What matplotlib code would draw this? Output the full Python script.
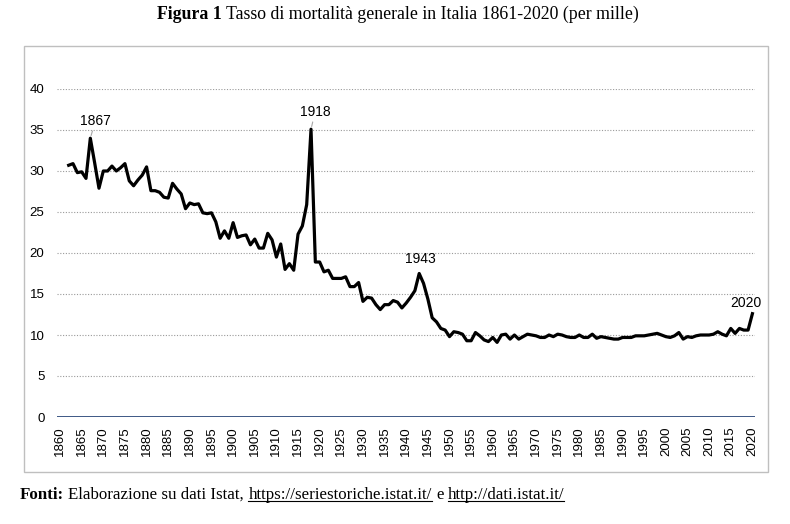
import matplotlib
matplotlib.use('Agg')
import matplotlib.pyplot as plt
from matplotlib.patches import Rectangle
from matplotlib.lines import Line2D

plt.rcParams['font.family'] = ['Liberation Sans', 'DejaVu Sans']

# Tasso di mortalita generale (per mille)
years = list(range(1862, 2021))
rate = [
    30.7, 30.9, 29.8, 29.9, 29.1, 34.0, 31.0, 27.9, 30.0,              # 1862-1870
    30.0, 30.6, 30.0, 30.4, 30.9, 28.8, 28.2, 28.9, 29.5, 30.5,        # 1871-1880
    27.6, 27.6, 27.4, 26.8, 26.7, 28.5, 27.8, 27.2, 25.4, 26.1,        # 1881-1890
    25.9, 26.0, 24.9, 24.8, 24.9, 23.8, 21.8, 22.7, 21.8, 23.7,        # 1891-1900
    21.9, 22.1, 22.2, 21.0, 21.7, 20.6, 20.6, 22.4, 21.6, 19.5,        # 1901-1910
    21.1, 18.0, 18.7, 17.9, 22.3, 23.3, 25.9, 35.1, 18.9, 18.9,        # 1911-1920
    17.7, 17.9, 16.9, 16.9, 16.9, 17.1, 15.9, 15.9, 16.4, 14.1,        # 1921-1930
    14.6, 14.5, 13.7, 13.1, 13.7, 13.7, 14.2, 14.0, 13.3, 13.9,        # 1931-1940
    14.6, 15.4, 17.5, 16.3, 14.4, 12.1, 11.6, 10.8, 10.6, 9.8,         # 1941-1950
    10.4, 10.3, 10.1, 9.3, 9.3, 10.3, 9.9, 9.4, 9.2, 9.7,              # 1951-1960
    9.1, 10.0, 10.1, 9.5, 10.0, 9.5, 9.8, 10.1, 10.0, 9.9,             # 1961-1970
    9.7, 9.7, 10.0, 9.8, 10.1, 10.0, 9.8, 9.7, 9.7, 10.0,              # 1971-1980
    9.7, 9.7, 10.1, 9.6, 9.8, 9.7, 9.6, 9.5, 9.5, 9.7,                 # 1981-1990
    9.7, 9.7, 9.9, 9.9, 9.9, 10.0, 10.1, 10.2, 10.0, 9.8,              # 1991-2000
    9.7, 9.9, 10.3, 9.5, 9.8, 9.7, 9.9, 10.0, 10.0, 10.0,              # 2001-2010
    10.1, 10.4, 10.1, 9.9, 10.8, 10.2, 10.8, 10.6, 10.6, 12.6,         # 2011-2020
]
tick_years = list(range(1860, 2021, 5))
y_ticks = [0, 5, 10, 15, 20, 25, 30, 35, 40]
highlight_years = [1867, 1918, 1943, 2020]

title_bold = "Figura 1"
title_text = "Tasso di mortalità generale in Italia 1861-2020 (per mille)"
source_parts = [
    ("Fonti:", True, False),
    ("Elaborazione su dati Istat,", False, False),
    ("https://seriestoriche.istat.it/", False, True),
    ("e", False, False),
    ("http://dati.istat.it/", False, True),
]

W, H = 790, 524
fig = plt.figure(figsize=(W / 100, H / 100), dpi=100)
fig.patch.set_facecolor('white')

# chart frame
fig.patches.append(Rectangle((24 / W, 1 - 472 / H), 744 / W, (472 - 46) / H,
                             transform=fig.transFigure, fill=False,
                             edgecolor='#BFBFBF', lw=1.0))

ax = fig.add_axes([57 / W, 1 - 417 / H, 698 / W, 328 / H])
ax.plot(years, rate, color='black', lw=2.3, solid_joinstyle='round', zorder=3)

ax.set_ylim(0, 40)
ax.set_xlim(1859.3, 2020.6)
ax.set_yticks(y_ticks)
ax.set_xticks(tick_years)
ax.set_xticklabels([str(y) for y in tick_years], rotation=90)
ax.tick_params(length=0, labelsize=9.5, colors='black')
ax.tick_params(axis='y', pad=9)
ax.tick_params(axis='x', pad=7)
for s in ax.spines.values():
    s.set_visible(False)
ax.grid(axis='y', ls=(0, (1, 1.5)), color='#9A9A9A', lw=0.8)
ax.set_axisbelow(True)
ax.axhline(0, color='#2F4B7C', lw=1.3, zorder=2)

# labels on notable years
offsets = {1867: (5, 17), 1918: (4, 17), 1943: (1, 14), 2020: (-7, 11)}
for yr in highlight_years:
    val = rate[years.index(yr)]
    line = dict(arrowstyle='-', color='#A6A6A6', lw=0.8, shrinkA=0, shrinkB=2) if yr in (1867, 1918) else None
    ax.annotate(str(yr), xy=(yr, val), xytext=offsets[yr], textcoords='offset pixels',
                ha='center', va='center', fontsize=10, arrowprops=line)


def rich_line(parts, x, y, size, center=False):
    r = fig.canvas.get_renderer()
    gap = size * 100 / 72 * 0.25
    items = []
    cur = x
    for s, bold, ul in parts:
        t = fig.text(cur / W, 1 - y / H, s, fontsize=size, family='Liberation Serif',
                     fontweight='bold' if bold else 'normal', va='baseline', ha='left')
        bb = t.get_window_extent(r)
        items.append((t, ul, cur, bb.width))
        cur += bb.width + gap
    shift = 0
    if center:
        total = cur - gap - x
        shift = -total / 2
    for t, ul, left, w in items:
        t.set_x((left + shift) / W)
        if ul:
            yy = 1 - (y + 2) / H
            fig.add_artist(Line2D([(left + shift) / W, (left + shift + w) / W], [yy, yy],
                                  transform=fig.transFigure, color='black', lw=0.8))


fig.canvas.draw()
rich_line([(title_bold, True, False), (title_text, False, False)], 398, 19, 12.8, center=True)
rich_line(source_parts, 20, 499, 12.2)

fig.savefig('out.png', dpi=100, facecolor='white')
